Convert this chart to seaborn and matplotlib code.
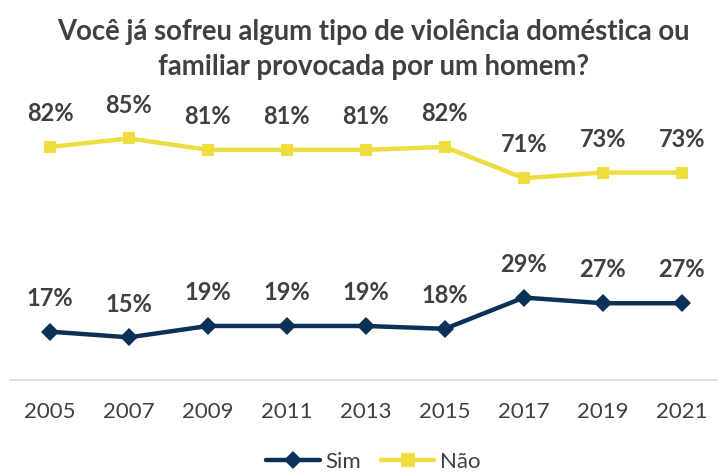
import pandas as pd
import matplotlib
matplotlib.use('Agg')
import matplotlib.pyplot as plt
import seaborn as sns
from matplotlib.lines import Line2D

# Dados do gráfico
anos = ['2005', '2007', '2009', '2011', '2013', '2015', '2017', '2019', '2021']
sim = [17, 15, 19, 19, 19, 18, 29, 27, 27]
nao = [82, 85, 81, 81, 81, 82, 71, 73, 73]

titulo = 'Você já sofreu algum tipo de violência doméstica ou\nfamiliar provocada por um homem?'

cor_sim = '#0B3157'
cor_nao = '#EFDD3F'
cor_texto = '#404040'

df = pd.DataFrame({
    'ano': anos * 2,
    'valor': sim + nao,
    'resposta': ['Sim'] * len(anos) + ['Não'] * len(anos),
})

sns.set_style('white')
plt.rcParams['font.family'] = ['Lato', 'DejaVu Sans']

fig = plt.figure(figsize=(7.18, 4.72), dpi=100)
ax = fig.add_axes([0.0146, 0.195, 0.99, 0.602])

sns.lineplot(data=df, x='ano', y='valor', hue='resposta', style='resposta',
             palette={'Sim': cor_sim, 'Não': cor_nao},
             markers={'Sim': 'D', 'Não': 's'}, dashes=False,
             markersize=9, markeredgewidth=0, linewidth=3.2,
             sort=False, ax=ax, legend=False)

# Rótulos de dados
for serie in [sim, nao]:
    for i, v in enumerate(serie):
        ax.annotate(f'{v}%', (i, v), xytext=(0, 24), textcoords='offset points',
                    ha='center', va='center', fontsize=17, fontweight='bold',
                    color=cor_texto)

ax.set_xlim(-0.5, len(anos) - 0.5)
ax.set_ylim(0, 100)
ax.set_xlabel('')
ax.set_ylabel('')
ax.set_yticks([])
ax.set_xticks(range(len(anos)))
ax.set_xticklabels(anos, fontsize=16, color=cor_texto)
ax.tick_params(axis='x', length=0, pad=16)
ax.set_xticks([i - 0.5 for i in range(len(anos) + 1)], minor=True)
ax.tick_params(axis='x', which='minor', length=8, color='#D9D9D9', width=1.2)
for lado in ['top', 'right', 'left']:
    ax.spines[lado].set_visible(False)
ax.spines['bottom'].set_color('#D9D9D9')
ax.spines['bottom'].set_linewidth(1.2)

fig.text(0.52, 0.895, titulo, ha='center', va='center', fontsize=19.8,
         fontweight='bold', color=cor_texto, linespacing=1.4)

# Legenda
handles = [Line2D([], [], color=cor_sim, marker='D', markersize=9, markeredgewidth=0, linewidth=3.2),
           Line2D([], [], color=cor_nao, marker='s', markersize=10, markeredgewidth=0, linewidth=3.2)]
fig.legend(handles, ['Sim', 'Não'], loc='center', bbox_to_anchor=(0.52, 0.022),
           ncol=2, frameon=False, fontsize=16, handlelength=2.4, handletextpad=0.25,
           columnspacing=0.9, labelcolor=cor_texto)

fig.savefig('out.png', dpi=100)
